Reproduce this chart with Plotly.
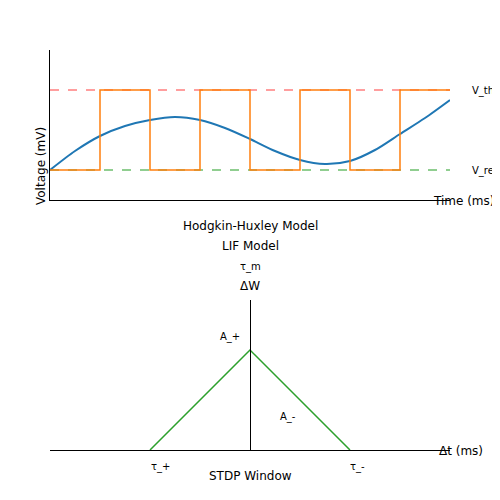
import plotly.graph_objects as go

# Top panel data (time units, voltage units)
sq_x = [0, 1, 1, 2, 2, 3, 3, 4, 4, 5, 5, 6, 6, 7, 7, 8]
sq_y = [3, 3, 11, 11, 3, 3, 11, 11, 3, 3, 11, 11, 3, 3, 11, 11]
hh_x = [0, 0.5, 1, 1.5, 2, 2.5, 3, 3.5, 4, 4.5, 5, 5.5, 6, 6.5, 7, 7.5, 8]
hh_y = [3, 4.9, 6.4, 7.4, 8.0, 8.3, 8.0, 7.2, 6.1, 4.9, 4.0, 3.6, 3.9, 5.0, 6.6, 8.2, 10.0]
v_th, v_reset = 11, 3
# STDP window
stdp_x = [-2, 0, 2]
stdp_y = [0, 2, 0]

DX, DY = -0.016, 0.016
F = dict(family="DejaVu Sans", color="black")
fig = go.Figure()
fig.add_trace(go.Scatter(x=[0, 8], y=[v_th, v_th], mode="lines", line=dict(color="#ff7f7f", dash="dash", width=1.5)))
fig.add_trace(go.Scatter(x=[0, 8], y=[v_reset, v_reset], mode="lines", line=dict(color="#6cbf6c", dash="dash", width=1.5)))
fig.add_trace(go.Scatter(x=hh_x, y=hh_y, mode="lines", line=dict(color="#1f77b4", width=2, shape="spline", smoothing=0.8)))
fig.add_trace(go.Scatter(x=sq_x, y=sq_y, mode="lines", line=dict(color="#ff7f0e", width=1.5)))
fig.add_trace(go.Scatter(x=stdp_x, y=stdp_y, mode="lines", line=dict(color="#2ca02c", width=1.5), xaxis="x2", yaxis="y2"))

ax = dict(showgrid=False, zeroline=False, showticklabels=False, ticks="", showline=True, linecolor="black", linewidth=1.2)
fig.update_layout(
    width=500, height=500, margin=dict(l=0, r=0, t=0, b=0),
    plot_bgcolor="white", paper_bgcolor="white", showlegend=False,
    font=dict(family="DejaVu Sans", size=11, color="black"),
    xaxis=dict(ax, domain=[0.1 + DX, 0.9 + DX], range=[0, 8]),
    yaxis=dict(ax, domain=[0.6 + DY, 0.9 + DY], range=[0, 15]),
    xaxis2=dict(ax, domain=[0.1 + DX, 0.9 + DX], range=[-4, 4], anchor="y2"),
    yaxis2=dict(ax, domain=[0.1 + DY, 0.4 + DY], range=[0, 3], anchor="free", position=0.5 + DX),
)
ann = [
    (0.94, 0.818, "V_th", 10, "left"),
    (0.94, 0.658, "V_reset", 10, "left"),
    (0.862, 0.598, "Time (ms)", 12, "left"),
    (0.5, 0.548, "Hodgkin-Huxley Model", 12, "center"),
    (0.5, 0.508, "LIF Model", 12, "center"),
    (0.5, 0.466, "τ_m", 10, "center"),
    (0.5, 0.428, "ΔW", 12, "center"),
    (0.46, 0.326, "A_+", 10, "center"),
    (0.576, 0.166, "A_-", 10, "center"),
    (0.32, 0.066, "τ_+", 10, "center"),
    (0.714, 0.066, "τ_-", 10, "center"),
    (0.874, 0.098, "Δt (ms)", 12, "left"),
    (0.5, 0.048, "STDP Window", 12, "center"),
]
for x, y, t, s, a in ann:
    fig.add_annotation(x=x + DX, y=y + DY, xref="paper", yref="paper", text=t, showarrow=False,
                       font=dict(F, size=s), xanchor=a, yanchor="middle")
fig.add_annotation(x=0.064 + DX, y=0.75 + DY, xref="paper", yref="paper", text="Voltage (mV)", textangle=-90,
                   showarrow=False, font=dict(F, size=12))
fig.write_html("out.html")
